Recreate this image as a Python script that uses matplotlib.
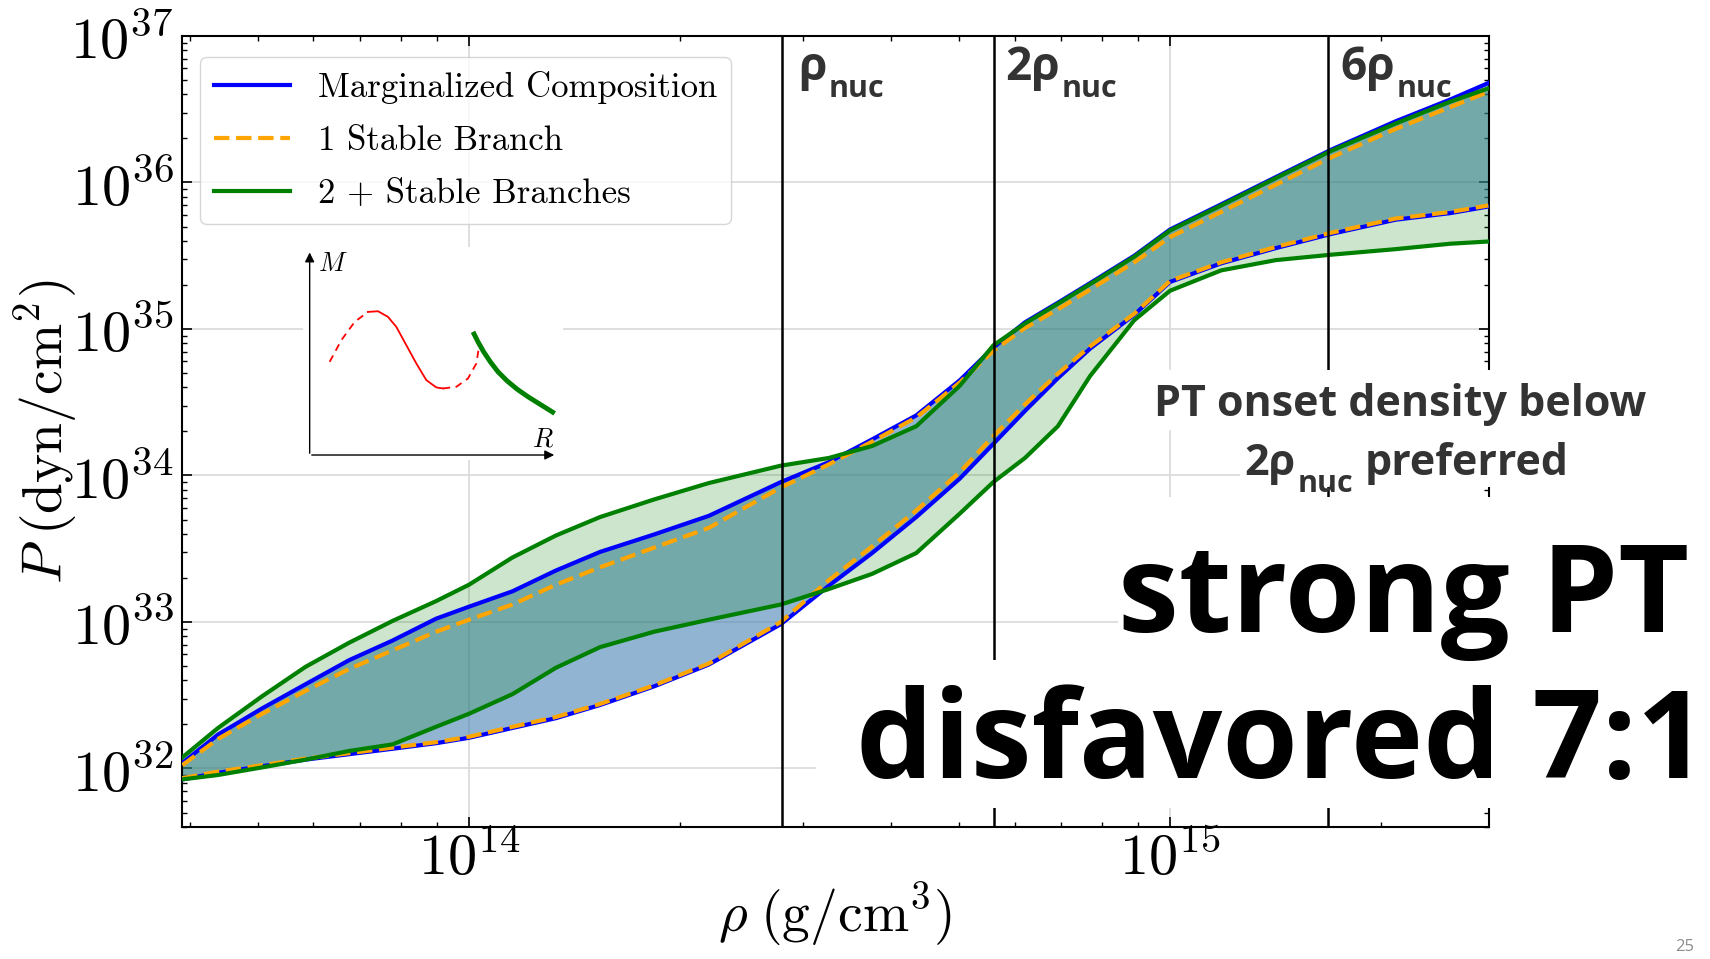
import numpy as np
import matplotlib
matplotlib.use('Agg')
import matplotlib.pyplot as plt
from matplotlib.ticker import LogLocator, FuncFormatter, NullFormatter
from matplotlib.patches import Rectangle
from matplotlib.text import Annotation

#-------------------------------------------------------------------
# EOS bands, log10 rho (g/cm^3) and log10 P (dyn/cm^2)
#-------------------------------------------------------------------
log_rho = [13.591, 13.642, 13.705, 13.767, 13.829, 13.891, 13.953, 14.000, 14.062, 14.124,
           14.187, 14.264, 14.342, 14.445, 14.513, 14.575, 14.638, 14.700, 14.748, 14.793,
           14.840, 14.886, 14.949, 15.000, 15.073, 15.151, 15.230, 15.322, 15.400, 15.454]

# marginalized composition
marg_hi = [32.037, 32.231, 32.410, 32.575, 32.739, 32.873, 33.022, 33.104, 33.209, 33.351,
           33.478, 33.597, 33.724, 33.955, 34.090, 34.246, 34.410, 34.649, 34.873, 35.045,
           35.179, 35.313, 35.500, 35.679, 35.851, 36.037, 36.224, 36.418, 36.567, 36.679]
marg_lo = [31.925, 31.970, 32.015, 32.060, 32.097, 32.134, 32.172, 32.209, 32.276, 32.343,
           32.433, 32.560, 32.709, 32.985, 33.246, 33.470, 33.716, 33.978, 34.216, 34.440,
           34.664, 34.866, 35.097, 35.321, 35.448, 35.552, 35.649, 35.746, 35.791, 35.836]
# 1 stable branch
one_hi = [32.022, 32.201, 32.373, 32.530, 32.679, 32.806, 32.933, 33.015, 33.119, 33.254,
          33.373, 33.507, 33.642, 33.918, 34.075, 34.231, 34.396, 34.634, 34.851, 35.007,
          35.134, 35.269, 35.455, 35.627, 35.799, 35.985, 36.172, 36.366, 36.515, 36.619]
one_lo = [31.933, 31.978, 32.022, 32.067, 32.104, 32.142, 32.179, 32.216, 32.284, 32.351,
          32.440, 32.567, 32.716, 33.000, 33.284, 33.515, 33.761, 34.022, 34.269, 34.485,
          34.694, 34.881, 35.104, 35.328, 35.455, 35.560, 35.657, 35.754, 35.799, 35.843]
# 2+ stable branches
two_hi = [32.075, 32.276, 32.493, 32.694, 32.858, 33.007, 33.142, 33.254, 33.440, 33.590,
          33.716, 33.836, 33.948, 34.067, 34.119, 34.201, 34.336, 34.612, 34.888, 35.037,
          35.172, 35.306, 35.493, 35.672, 35.843, 36.030, 36.216, 36.403, 36.552, 36.642]
two_lo = [31.925, 31.955, 32.007, 32.060, 32.119, 32.164, 32.284, 32.373, 32.507, 32.687,
          32.828, 32.933, 33.015, 33.119, 33.224, 33.328, 33.470, 33.739, 33.955, 34.119,
          34.336, 34.679, 35.060, 35.261, 35.400, 35.470, 35.507, 35.545, 35.582, 35.597]

rho_nuc = 2.8e14
nuc_mult = [1, 2, 6]
nuc_main = ['\u03c1', '2\u03c1', '6\u03c1']

# M-R sketch (sketch units, y grows downward)
mr_dash1_x = [150, 185, 225, 265]
mr_dash1_y = [395, 330, 275, 245]
mr_solid_x = [265, 295, 325, 350, 380, 410, 440, 470, 490]
mr_solid_y = [245, 243, 260, 290, 345, 400, 450, 472, 475]
mr_dash2_x = [490, 530, 565, 590, 598, 585]
mr_dash2_y = [475, 470, 445, 400, 350, 305]
mr_stab_x = [580, 595, 612, 632, 655, 682, 712, 745, 785, 825]
mr_stab_y = [305, 335, 365, 395, 425, 452, 477, 500, 525, 550]

#-------------------------------------------------------------------
plt.rcParams['mathtext.fontset'] = 'cm'
plt.rcParams['axes.unicode_minus'] = False
sans = ['Open Sans', 'DejaVu Sans']

W, H = 1710, 959
fig = plt.figure(figsize=(W / 100, H / 100), dpi=100)
ax = fig.add_axes([182 / W, 1 - 827 / H, 1307 / W, 791 / H])

rho = 10 ** np.array(log_rho)
p = lambda a: 10 ** np.array(a)

ax.fill_between(rho, p(marg_lo), p(marg_hi), color='steelblue', alpha=0.6, lw=0, zorder=2)
ax.fill_between(rho, p(two_lo), p(two_hi), color='green', alpha=0.2, lw=0, zorder=2)

ax.plot(rho, p(marg_hi), color='blue', lw=3, label='Marginalized Composition', zorder=3)
ax.plot(rho, p(marg_lo), color='blue', lw=3, zorder=3)
ax.plot(rho, p(one_hi), color='orange', lw=3, ls='--', label='1 Stable Branch', zorder=4)
ax.plot(rho, p(one_lo), color='orange', lw=3, ls='--', zorder=4)
ax.plot(rho, p(two_hi), color='green', lw=3, label='2 + Stable Branches', zorder=5)
ax.plot(rho, p(two_lo), color='green', lw=3, zorder=5)

for m in nuc_mult:
    ax.axvline(m * rho_nuc, color='black', lw=1.8, zorder=6)

ax.set_xscale('log')
ax.set_yscale('log')
ax.set_xlim(10 ** 13.5906, 10 ** 15.455)
ax.set_ylim(10 ** 31.6, 1e37)

fmt = FuncFormatter(lambda v, pos: r'$10^{%d}$' % int(round(np.log10(v))))
for axis in (ax.xaxis, ax.yaxis):
    axis.set_major_locator(LogLocator(base=10, numticks=20))
    axis.set_minor_locator(LogLocator(base=10, subs=np.arange(2, 10) * 1.0, numticks=50))
    axis.set_major_formatter(fmt)
    axis.set_minor_formatter(NullFormatter())
ax.tick_params(which='both', direction='in', top=True, right=True, labelsize=42)
ax.tick_params(axis='x', pad=2)
ax.tick_params(axis='y', pad=6)
ax.tick_params(which='major', length=7, width=1.2)
ax.tick_params(which='minor', length=3.5, width=1.0)
for s in ax.spines.values():
    s.set_linewidth(1.5)
ax.grid(True, which='major', color='#dcdcdc', lw=1.3)
ax.set_axisbelow(True)

ax.set_xlabel(r'$\rho\;(\mathrm{g/cm^3})$', fontsize=40)
ax.set_ylabel(r'$P\;(\mathrm{dyn/cm^2})$', fontsize=40)
ax.xaxis.set_label_coords(0.5, -0.068)
ax.yaxis.set_label_coords(-0.078, 0.5)

ax.legend(loc='upper left', bbox_to_anchor=(0.0138, 0.9735), borderaxespad=0,
          prop={'family': 'cmr10', 'size': 25}, handlelength=2.2, labelspacing=0.62)

# M-R sketch
ins = fig.add_axes([303 / W, 1 - 460 / H, 260 / W, 213 / H])
ins.set_xlim(70, 850)
ins.set_ylim(690, 50)
ins.set_xticks([])
ins.set_yticks([])
for s in ins.spines.values():
    s.set_visible(False)
ins.plot(mr_dash1_x, mr_dash1_y, color='red', lw=1.3, ls=(0, (4, 3)))
ins.plot(mr_solid_x, mr_solid_y, color='red', lw=1.3)
ins.plot(mr_dash2_x, mr_dash2_y, color='red', lw=1.3, ls=(0, (4, 3)))
ins.plot(mr_stab_x, mr_stab_y, color='green', lw=3.5, solid_capstyle='butt')
ins.annotate('', xy=(90, 58), xytext=(90, 678),
             arrowprops=dict(arrowstyle='-|>', color='black', lw=1.0, mutation_scale=14))
ins.annotate('', xy=(832, 675), xytext=(88, 675),
             arrowprops=dict(arrowstyle='-|>', color='black', lw=1.0, mutation_scale=14))
ins.text(115, 100, r'$M$', fontsize=19, va='center', ha='left')
ins.text(790, 628, r'$R$', fontsize=19, va='center', ha='center')


def sub_label(x, y, main, sub, size, sub_size, drop, color, z=12):
    # main text with a lowered subscript right after it (pixel positions)
    t = fig.text(x / W, 1 - y / H, main, fontsize=size, weight='bold', family=sans,
                 color=color, ha='left', va='baseline', zorder=z)
    s = Annotation(sub, xy=(1.0, 1 - (y + drop) / H), xycoords=(t, 'figure fraction'),
                   xytext=(2, 0), textcoords='offset pixels', fontsize=sub_size,
                   weight='bold', family=sans, color=color, ha='left', va='baseline',
                   zorder=z)
    fig.add_artist(s)
    return s


# density labels
nuc_x = [798, 1005, 1340]
for xp, t in zip(nuc_x, nuc_main):
    sub_label(xp, 80, t, 'nuc', 33, 22, 17, '#333333')

# white panels behind the annotations
panels = [(1160, 370, 1710, 430), (1240, 430, 1710, 487),
          (1118, 497, 1710, 660), (816, 660, 1710, 808)]
for x0, y0, x1, y1 in panels:
    fig.add_artist(Rectangle((x0 / W, 1 - y1 / H), (x1 - x0) / W, (y1 - y0) / H,
                             transform=fig.transFigure, fc='white', ec='none', zorder=10))

fig.text(1400 / W, 1 - 416 / H, 'PT onset density below', fontsize=31, weight='bold',
         family=sans, color='#333333', ha='center', va='baseline', zorder=12)
s = sub_label(1244, 475, '2\u03c1', 'nuc', 31, 22, 17, '#333333')
fig.add_artist(Annotation('preferred', xy=(1.0, 1 - 475 / H), xycoords=(s, 'figure fraction'),
                          xytext=(12, 0), textcoords='offset pixels', fontsize=31,
                          weight='bold', family=sans, color='#333333', ha='left',
                          va='baseline', zorder=12))
fig.text(1118 / W, 1 - 632 / H, 'strong PT', fontsize=88, weight='bold', family=sans,
         color='black', ha='left', va='baseline', zorder=12)
fig.text(856 / W, 1 - 778 / H, 'disfavored 7:1', fontsize=88, weight='bold', family=sans,
         color='black', ha='left', va='baseline', zorder=12)
fig.text(1685 / W, 1 - 947 / H, '25', fontsize=12, color='#8c8c8c', ha='center', va='center',
         family=sans)

fig.savefig('out.png', dpi=100, facecolor='white')
